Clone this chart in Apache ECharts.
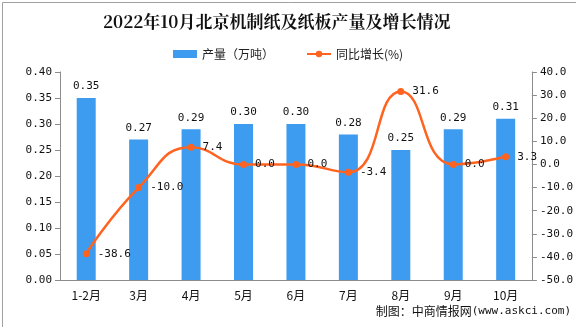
<!DOCTYPE html>
<html>
<head>
<meta charset="utf-8">
<script src="https://cdn.jsdelivr.net/npm/echarts@6/dist/echarts.min.js"></script>
<style>
html,body{margin:0;padding:0;background:#fff;}
#chart{width:576px;height:327px;}
</style>
</head>
<body>
<div id="chart"></div>
<script>
// 北京机制纸及纸板产量（万吨）与同比增长（%）
const months = ['1-2月', '3月', '4月', '5月', '6月', '7月', '8月', '9月', '10月'];
const output = [0.35, 0.27, 0.29, 0.30, 0.30, 0.28, 0.25, 0.29, 0.31];
const growth = [-38.6, -10.0, 7.4, 0.0, 0.0, -3.4, 31.6, 0.0, 3.3];

const monoFont = '"DejaVu Sans Mono", "Liberation Mono", monospace';
const cjkFont = '"Noto Sans CJK SC", sans-serif';
const axisGray = '#8c8c8c';

const chart = echarts.init(document.getElementById('chart'));
chart.setOption({
  animation: false,
  backgroundColor: '#fff',
  title: {
    text: '2022年10月北京机制纸及纸板产量及增长情况',
    left: 98, top: 8,
    textStyle: { fontFamily: '"Noto Serif CJK SC", ' + cjkFont, fontSize: 17, fontWeight: 'bold', color: '#111' }
  },
  legend: {
    top: 43, left: 168, itemGap: 32,
    itemWidth: 24, itemHeight: 8,
    textStyle: { fontFamily: cjkFont, fontSize: 12, color: '#222' },
    data: [
      { name: '产量（万吨）', icon: 'rect' },
      { name: '同比增长(%)' }
    ]
  },
  grid: { left: 60, right: 43, top: 72, bottom: 47 },
  xAxis: {
    type: 'category',
    data: months,
    axisLine: { lineStyle: { color: axisGray } },
    axisTick: { lineStyle: { color: axisGray } },
    axisLabel: { color: '#111', fontFamily: cjkFont, fontSize: 12, margin: 9 }
  },
  yAxis: [
    {
      type: 'value', min: 0, max: 0.4, interval: 0.05,
      splitLine: { show: false },
      axisLine: { show: true, lineStyle: { color: axisGray } },
      axisTick: { show: true, lineStyle: { color: axisGray } },
      axisLabel: { color: '#111', fontFamily: monoFont, fontSize: 11, formatter: v => v.toFixed(2) }
    },
    {
      type: 'value', min: -50, max: 40, interval: 10,
      splitLine: { show: false },
      axisLine: { show: true, lineStyle: { color: axisGray } },
      axisTick: { show: true, lineStyle: { color: axisGray } },
      axisLabel: { color: '#111', fontFamily: monoFont, fontSize: 11, formatter: v => v.toFixed(1) }
    }
  ],
  series: [
    {
      name: '产量（万吨）',
      type: 'bar',
      data: output,
      barWidth: 19,
      itemStyle: { color: '#3d9cf0' },
      label: {
        show: true, position: 'top', distance: 6,
        color: '#111', fontFamily: monoFont, fontSize: 11,
        formatter: p => p.value.toFixed(2)
      }
    },
    {
      name: '同比增长(%)',
      type: 'line',
      yAxisIndex: 1,
      data: growth,
      smooth: true,
      symbol: 'circle', symbolSize: 7,
      lineStyle: { color: '#ff6320', width: 2.5 },
      itemStyle: { color: '#ff6320' },
      label: {
        show: true, position: 'right', distance: 8,
        color: '#111', fontFamily: monoFont, fontSize: 11,
        formatter: p => p.value.toFixed(1)
      }
    }
  ],
  graphic: [
    {
      type: 'text', right: 5, top: 305,
      style: {
        text: '{c|制图：中商情报网}{m|(www.askci.com)}',
        rich: {
          c: { fill: '#111', fontFamily: cjkFont, fontSize: 12 },
          m: { fill: '#111', fontFamily: monoFont, fontSize: 11 }
        }
      }
    },
    {
      type: 'rect', left: 0, top: 0, silent: true,
      shape: { x: 0.5, y: 0.5, width: 575, height: 326 },
      style: { fill: 'none', stroke: '#a0a0a0', lineWidth: 1 }
    }
  ]
});
</script>
</body>
</html>
